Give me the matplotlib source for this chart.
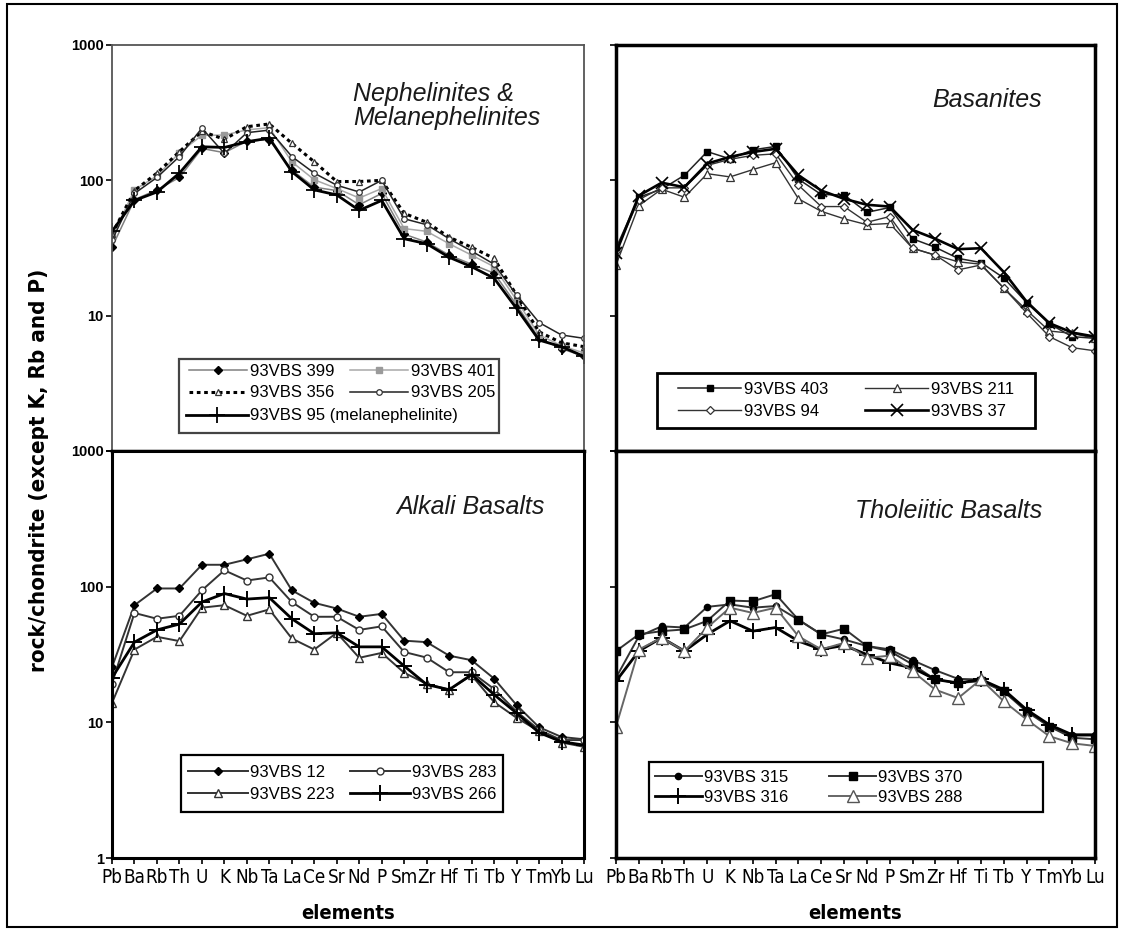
import os
import numpy as np
import matplotlib
matplotlib.use("Agg")
from matplotlib import pyplot as plt
from matplotlib import font_manager
from matplotlib.patches import Rectangle

plt.rcParams['font.family'] = ['Liberation Sans', 'DejaVu Sans']

W, H = 1123, 931

elements = ['Pb', 'Ba', 'Rb', 'Th', 'U', 'K', 'Nb', 'Ta', 'La', 'Ce', 'Sr',
            'Nd', 'P', 'Sm', 'Zr', 'Hf', 'Ti', 'Tb', 'Y', 'Tm', 'Yb', 'Lu']

# Nephelinites & Melanephelinites
neph_399 = [32, 72, 85, 105, 172, 160, 195, 200, 119, 89, 84, 66, 80, 40, 35, 28, 24, 20.6, 12, 6.8, 5.7, 5.0]
neph_401 = [38, 85, 108, 160, 215, 216, 236, 245, 137, 101, 87, 74, 87, 44, 42, 34, 28, 23, 13, 7.2, 6.0, 5.3]
neph_356 = [40, 84, 113, 163, 230, 201, 249, 261, 188, 137, 98, 98, 100, 57, 49, 38, 32, 26.5, 14.2, 7.6, 6.3, 5.9]
neph_205 = [36, 80, 105, 150, 243, 158, 225, 235, 150, 113, 92, 82, 100, 52, 47, 37, 30, 24, 14.2, 8.9, 7.2, 6.8]
neph_95 = [42, 71, 82, 113, 177, 175, 193, 205, 116, 85, 78, 60, 71, 37, 34, 27, 23, 18.9, 11.3, 6.6, 5.9, 5.0]

# Basanites
bas_403 = [31.5, 75, 86, 109, 163, 144, 168, 178, 102, 78.5, 78, 58, 63, 37, 32, 26.5, 24.7, 19, 12.5, 8.7, 7.0, 6.8]
bas_211 = [23.7, 65, 86, 75, 112, 106, 120, 135, 73, 59, 52, 47, 48, 31.5, 28, 25, 24, 16, 11, 7.7, 7.4, 6.8]
bas_94 = [30, 72, 88, 88, 129, 143, 153, 157, 92, 64, 64, 49, 54, 31.5, 28, 21.8, 23.7, 16, 10.5, 7.0, 5.8, 5.5]
bas_37 = [29, 77, 96, 89, 133, 149, 162, 171, 109, 84, 73, 66, 64, 43, 37, 31, 31.5, 21, 12.7, 8.8, 7.5, 7.0]

# Alkali basalts
alk_12 = [25.5, 73, 97, 97, 145, 145, 159, 175, 94, 76, 69, 60, 63, 40, 39, 31, 28.7, 21, 13.4, 9.2, 7.8, 7.5]
alk_283 = [19.3, 64, 58, 61, 94, 132, 111, 117, 77, 60, 60, 48, 51, 33, 30, 23.4, 23.4, 17.6, 12, 8.8, 7.4, 7.4]
alk_223 = [13.9, 34.4, 42.7, 39.7, 70, 73, 61, 68, 41.5, 34.4, 45.7, 29.9, 32.5, 23.2, 19.2, 17.4, 22.2, 14.1, 10.8, 8.6, 7.1, 6.6]
alk_266 = [21.3, 39, 48, 53, 77, 89, 81, 83, 58, 45, 45.7, 36, 36, 26, 19, 17.4, 22.5, 16, 11.7, 8.4, 7.2, 6.8]

# Tholeiitic basalts
tho_315 = [21.3, 43, 51, 50, 71, 74, 70, 72, 57, 44.5, 40.8, 36.5, 34.5, 28.7, 24.2, 20.9, 20.7, 16.9, 12.3, 9.3, 8.0, 8.0]
tho_370 = [33.5, 44.5, 47, 48.4, 56, 79, 78, 88, 57, 44.5, 49, 36.5, 33.5, 26.7, 20.7, 19.5, 20.1, 16.9, 12, 9.3, 7.7, 7.5]
tho_316 = [20.1, 33.5, 42, 33.5, 44.5, 56, 47, 50, 39.7, 34.5, 36.9, 31.6, 27.4, 25.2, 20.7, 19.5, 20.7, 17.4, 12.4, 9.6, 8.1, 8.1]
tho_288 = [9.3, 34.4, 42, 33.5, 50, 70, 64, 70, 43, 34.5, 38.5, 29.9, 31, 23.8, 17.4, 15.1, 20.7, 14.3, 10.5, 7.9, 7.0, 6.7]


def find_narrow(bold=False):
    """Look for an installed narrow / condensed sans face (Arial Narrow look)."""
    best = None
    prefs = ['liberation sans narrow', 'arial narrow', 'dejavu sans condensed',
             'dejavu sans', 'noto sans', 'open sans', 'roboto']
    for f in font_manager.fontManager.ttflist:
        fn = os.path.basename(f.fname).lower()
        name = f.name.lower()
        if not ('narrow' in fn or 'condensed' in fn or 'narrow' in name
                or 'condensed' in name or f.stretch in ('condensed', 'semi-condensed')):
            continue
        if 'italic' in fn or 'oblique' in fn or f.style != 'normal':
            continue
        w = f.weight if isinstance(f.weight, (int, float)) else font_manager.weight_dict.get(f.weight, 400)
        if (w >= 600) != bold or 'semibold' in fn or 'extra' in fn or 'black' in fn:
            continue
        rank = next((i for i, p in enumerate(prefs) if p in name), len(prefs))
        if best is None or rank < best[0]:
            best = (rank, f.fname)
    return best[1] if best else None


narrow = find_narrow(False)
narrow_bold = find_narrow(True)


def fprops(size, bold=False):
    path = narrow_bold if bold else narrow
    if path:
        return font_manager.FontProperties(fname=path, size=size)
    return font_manager.FontProperties(family='Liberation Sans', size=size * 0.85,
                                       weight='bold' if bold else 'normal')


def px_box(x0, y0, x1, y1):
    return [x0 / W, 1 - y1 / H, (x1 - x0) / W, (y1 - y0) / H]


def px_to_axes(ax, px, py):
    return tuple(ax.transAxes.inverted().transform((px, H - py)))


def legend_frame(ax, x0, y0, x1, y1, lw, color='black'):
    """Hand-drawn legend frame given in figure pixels."""
    (ax0, ay0), (ax1, ay1) = px_to_axes(ax, x0, y1), px_to_axes(ax, x1, y0)
    ax.add_patch(Rectangle((ax0, ay0), ax1 - ax0, ay1 - ay0, transform=ax.transAxes,
                           facecolor='white', edgecolor=color, lw=lw, zorder=4))
    return (ax0 + ax1) / 2, (ay0 + ay1) / 2


fig = plt.figure(figsize=(W / 100, H / 100), dpi=100)
fig.patches.append(Rectangle((7 / W, 4 / H), 1110 / W, 923 / H, transform=fig.transFigure,
                             fill=False, edgecolor='black', linewidth=1.5))

ax_tl = fig.add_axes(px_box(112, 45, 584, 451))
ax_tr = fig.add_axes(px_box(616, 45, 1095, 451))
ax_bl = fig.add_axes(px_box(112, 451, 584, 858))
ax_br = fig.add_axes(px_box(616, 451, 1095, 858))

x = np.arange(len(elements))

for ax in (ax_tl, ax_tr, ax_bl, ax_br):
    ax.set_yscale('log')
    ax.set_ylim(1, 1000)
    ax.set_xlim(0, len(elements) - 1)
    ax.set_xticks(x)
    ax.minorticks_off()
    ax.tick_params(axis='both', direction='out', length=4, width=1.2, colors='black')
    ax.tick_params(axis='y', pad=2)
    ax.set_yticks([1, 10, 100, 1000])

for ax in (ax_tl, ax_tr):
    ax.set_xticklabels([])
for ax in (ax_tr, ax_br):
    ax.set_yticklabels([])

ax_tl.set_yticklabels(['', '10', '100', '1000'], fontsize=10.5, fontweight='bold')
ax_bl.set_yticklabels(['1', '10', '100', '1000'], fontsize=10.5, fontweight='bold')
for ax in (ax_bl, ax_br):
    ax.set_xticklabels(elements, fontproperties=fprops(13.5))
    ax.set_xlabel('elements', fontproperties=fprops(14.5, bold=True), labelpad=12)

# spines
for side in ('left', 'top', 'right'):
    ax_tl.spines[side].set_color('#555555')
    ax_tl.spines[side].set_linewidth(1.3)
ax_tl.spines['bottom'].set_linewidth(2.5)
for ax in (ax_tr, ax_br):
    for s in ax.spines.values():
        s.set_linewidth(2.5)
for s in ax_bl.spines.values():
    s.set_linewidth(2.2)

leg_kw = dict(borderaxespad=0, fontsize=12, handletextpad=0.15, borderpad=0, frameon=False)

# panel 1
l_399, = ax_tl.plot(x, neph_399, color='#808080', lw=1.1, marker='D', ms=4, mfc='black', mec='black')
l_401, = ax_tl.plot(x, neph_401, color='#a8a8a8', lw=1.1, marker='s', ms=4.5, mfc='#9a9a9a', mec='#9a9a9a')
l_356, = ax_tl.plot(x, neph_356, color='black', lw=2.2, ls=(0, (1.2, 1.2)), marker='^', ms=5,
                    mfc='white', mec='#333333', mew=0.9)
l_205, = ax_tl.plot(x, neph_205, color='#222222', lw=1.1, marker='o', ms=4, mfc='white', mec='#333333', mew=0.9)
l_95, = ax_tl.plot(x, neph_95, color='black', lw=2.0, marker='+', ms=11, mew=1.3)

# the long melanephelinite label runs under column 2, so the frame is drawn by hand
legend_frame(ax_tl, 179, 359, 499, 433, 1.6, '#444444')
leg1 = ax_tl.legend([l_399, l_356, l_401, l_205],
                    ['93VBS 399', '93VBS 356', '93VBS 401', '93VBS 205'],
                    ncol=2, loc='upper left', bbox_to_anchor=(0.163, 0.215), handlelength=3.5,
                    columnspacing=0.95, labelspacing=0.4, **leg_kw)
ax_tl.add_artist(leg1)
ax_tl.legend([l_95], ['93VBS 95 (melanephelinite)'], loc='upper left',
             bbox_to_anchor=(0.157, 0.105), handlelength=3.7, **leg_kw)

# panel 2
l_403, = ax_tr.plot(x, bas_403, color='#222222', lw=1.1, marker='s', ms=5, mfc='black', mec='black')
l_211, = ax_tr.plot(x, bas_211, color='#333333', lw=1.0, marker='^', ms=5.5, mfc='white', mec='#333333', mew=0.9)
l_94, = ax_tr.plot(x, bas_94, color='#333333', lw=1.0, marker='D', ms=4, mfc='white', mec='#333333', mew=0.9)
l_37, = ax_tr.plot(x, bas_37, color='black', lw=1.9, marker='x', ms=8, mew=1.2)
cx, cy = legend_frame(ax_tr, 657, 373, 1035, 428, 2.0)
ax_tr.legend([l_403, l_94, l_211, l_37],
             ['93VBS 403', '93VBS 94', '93VBS 211', '93VBS 37'],
             ncol=2, loc='center', bbox_to_anchor=(cx, cy), handlelength=3.8,
             columnspacing=2.2, labelspacing=0.42, **leg_kw)

# panel 3
l_12, = ax_bl.plot(x, alk_12, color='#333333', lw=1.4, marker='D', ms=4.5, mfc='black', mec='black')
l_283, = ax_bl.plot(x, alk_283, color='#333333', lw=1.4, marker='o', ms=5, mfc='white', mec='#333333', mew=1)
l_223, = ax_bl.plot(x, alk_223, color='#333333', lw=1.4, marker='^', ms=6, mfc='white', mec='#333333', mew=1)
l_266, = ax_bl.plot(x, alk_266, color='black', lw=2.0, marker='+', ms=11, mew=1.4)
cx, cy = legend_frame(ax_bl, 181, 755, 503, 812, 1.6)
ax_bl.legend([l_12, l_223, l_283, l_266],
             ['93VBS 12', '93VBS 223', '93VBS 283', '93VBS 266'],
             ncol=2, loc='center', bbox_to_anchor=(cx, cy), handlelength=3.6,
             columnspacing=0.9, labelspacing=0.38, **leg_kw)

# panel 4
l_315, = ax_br.plot(x, tho_315, color='#333333', lw=1.4, marker='o', ms=4.5, mfc='black', mec='black')
l_370, = ax_br.plot(x, tho_370, color='#333333', lw=1.4, marker='s', ms=5.5, mfc='black', mec='black')
l_316, = ax_br.plot(x, tho_316, color='black', lw=2.0, marker='+', ms=12, mew=1.4)
l_288, = ax_br.plot(x, tho_288, color='#666666', lw=1.4, marker='^', ms=9, mfc='white', mec='#555555', mew=1)
legend_frame(ax_br, 649, 762, 1043, 812, 1.6)
ax_br.legend([l_315, l_316, l_370, l_288],
             ['93VBS 315', '93VBS 316', '93VBS 370', '93VBS 288'],
             ncol=2, loc='center left', bbox_to_anchor=px_to_axes(ax_br, 655, 787),
             handlelength=2.8, columnspacing=2.45, labelspacing=0.3, **leg_kw)

# panel names
title_kw = dict(fontsize=18, style='italic', color='#1a1a1a', transform=fig.transFigure)
fig.text(353 / W, 1 - 106 / H, 'Nephelinites &\nMelanephelinites', ha='left', va='center',
         linespacing=1.05, **title_kw)
fig.text(1042 / W, 1 - 100 / H, 'Basanites', ha='right', va='center', **title_kw)
fig.text(545 / W, 1 - 507 / H, 'Alkali Basalts', ha='right', va='center', **title_kw)
fig.text(1042 / W, 1 - 511 / H, 'Tholeiitic Basalts', ha='right', va='center', **title_kw)

fig.text(39 / W, 1 - 470 / H, 'rock/chondrite (except K, Rb and P)', rotation=90,
         ha='center', va='center', fontproperties=fprops(16, bold=True))

fig.savefig('out.png', dpi=100)
